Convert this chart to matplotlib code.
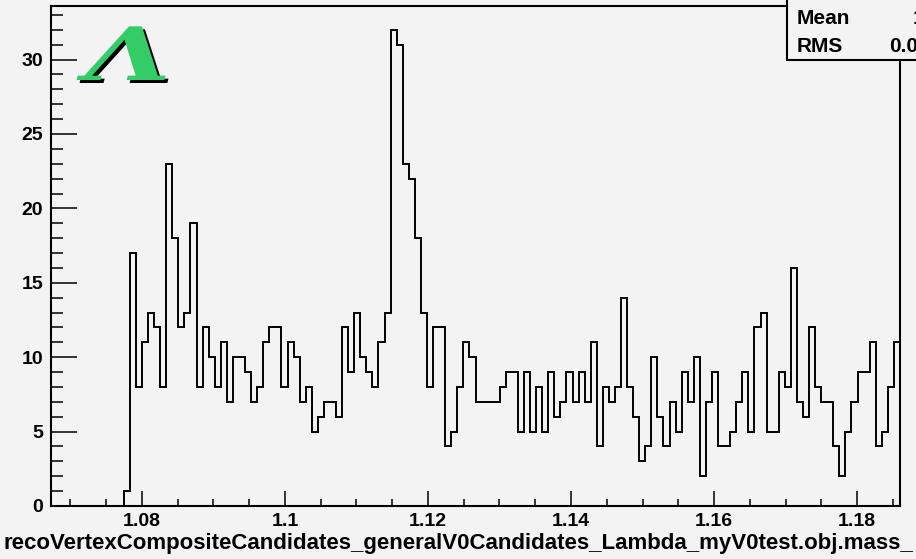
import numpy as np
import matplotlib
matplotlib.use("Agg")
import matplotlib.pyplot as plt
from matplotlib.patches import Rectangle
from matplotlib.ticker import MultipleLocator, FuncFormatter
from matplotlib.transforms import Affine2D
import matplotlib.patheffects as pe

# Lambda candidate invariant mass histogram (GeV)
x_lo, x_hi = 1.0673, 1.1860
n_bins = 140
counts = [
    0, 0, 0, 0, 0, 0, 0, 0, 0, 0, 0, 0,
    1, 17, 8, 11, 13, 12, 8, 23, 18, 12, 13, 19, 8, 12, 10, 8, 11, 7,
    10, 10, 9, 7, 8, 11, 12, 12, 8, 11, 10, 7, 8, 5, 6, 7, 7, 6,
    12, 9, 13, 10, 9, 8, 11, 13, 32, 31, 23, 22, 18, 13, 8, 12, 12,
    4, 5, 8, 11, 10, 7, 7, 7, 7, 8, 9, 9, 5, 9, 5, 8, 5, 9, 6, 7,
    9, 7, 9, 7, 11, 4, 8, 7, 8, 14, 8, 6, 3, 4, 10, 6, 4, 7, 5, 9,
    7, 10, 2, 7, 9, 4, 4, 5, 7, 9, 5, 12, 13, 5, 5, 9, 8, 16, 7, 6,
    12, 8, 7, 7, 4, 2, 5, 7, 9, 9, 11, 4, 5, 8, 11,
]
x_title = "recoVertexCompositeCandidates_generalV0Candidates_Lambda_myV0test.obj.mass_"
symbol = "\u039b"

edges = np.linspace(x_lo, x_hi, n_bins + 1)
n = np.asarray(counts, dtype=float)
centers = 0.5 * (edges[:-1] + edges[1:])
mean = np.sum(centers * n) / np.sum(n)
rms = np.sqrt(np.sum(n * (centers - mean) ** 2) / np.sum(n))


class StretchedShadow(pe.AbstractPathEffect):
    """Widen a glyph horizontally about a pixel column and give it a hard shadow."""

    def __init__(self, sx, cx, shadow=(3, -3), shadow_color="black"):
        super().__init__()
        self.sx, self.cx, self.shadow, self.shadow_color = sx, cx, shadow, shadow_color

    def draw_path(self, renderer, gc, tpath, affine, rgbFace=None):
        stretch = Affine2D().translate(-self.cx, 0).scale(self.sx, 1).translate(self.cx, 0)
        t = affine + stretch
        gc0 = renderer.new_gc()
        gc0.copy_properties(gc)
        gc0.set_foreground(self.shadow_color)
        renderer.draw_path(gc0, tpath, t + Affine2D().translate(*self.shadow),
                           matplotlib.colors.to_rgba(self.shadow_color))
        gc0.restore()
        renderer.draw_path(gc, tpath, t, rgbFace)


W, H = 916, 559
bg = "#f3f3f3"
fig = plt.figure(figsize=(W / 100, H / 100), dpi=100, facecolor=bg)
ax = fig.add_axes([51 / W, (H - 506) / H, 849 / W, 500 / H], facecolor=bg)

ax.stairs(n, edges, color="black", linewidth=1.4)

ax.set_xlim(x_lo, x_hi)
ax.set_ylim(0, max(counts) * 1.05)

for s in ax.spines.values():
    s.set_linewidth(1.5)
    s.set_color("black")

ax.xaxis.set_major_locator(MultipleLocator(0.02))
ax.xaxis.set_minor_locator(MultipleLocator(0.005))
ax.yaxis.set_major_locator(MultipleLocator(5))
ax.yaxis.set_minor_locator(MultipleLocator(1))
ax.xaxis.set_major_formatter(FuncFormatter(lambda v, p: f"{v:g}"))
ax.yaxis.set_major_formatter(FuncFormatter(lambda v, p: f"{v:g}"))

ax.tick_params(axis="x", which="major", direction="in", length=10.8, width=1.1, pad=5.0)
ax.tick_params(axis="x", which="minor", direction="in", length=5.0, width=1.1)
ax.tick_params(axis="y", which="major", direction="in", length=18.7, width=1.1, pad=5.5)
ax.tick_params(axis="y", which="minor", direction="in", length=8.6, width=1.1)
ax.tick_params(top=False, right=False, which="both")
for lab in ax.get_xticklabels() + ax.get_yticklabels():
    lab.set_fontfamily("Liberation Sans")
    lab.set_fontweight("bold")
    lab.set_fontsize(14)

fig.text(458 / W, 16 / H, x_title, ha="center", va="center",
         fontfamily="Liberation Sans", fontweight="bold", fontsize=16)

# particle symbol with drop shadow
fig.text(128 / W, (H - 80) / H, symbol, ha="center", va="baseline",
         fontfamily="DejaVu Serif", style="italic", fontweight="bold", fontsize=53,
         color="#33cc66", path_effects=[StretchedShadow(1.5, 128, shadow=(3, -3))])

# statistics box
box = Rectangle((787 / W, (H - 60) / H), 300 / W, 100 / H, transform=fig.transFigure,
                facecolor=bg, edgecolor="black", linewidth=1.5, zorder=5)
fig.add_artist(box)
stat_kw = dict(fontfamily="Liberation Sans", fontweight="bold", fontsize=15, zorder=6)
fig.text(797 / W, (H - 18) / H, "Mean", ha="left", va="center", **stat_kw)
fig.text(797 / W, (H - 46) / H, "RMS", ha="left", va="center", **stat_kw)
fig.text(913 / W, (H - 18) / H, f"{mean:.4g}", ha="left", va="center", **stat_kw)
fig.text(889 / W, (H - 46) / H, f"{rms:.4g}", ha="left", va="center", **stat_kw)

fig.savefig("out.png", dpi=100, facecolor=bg)
